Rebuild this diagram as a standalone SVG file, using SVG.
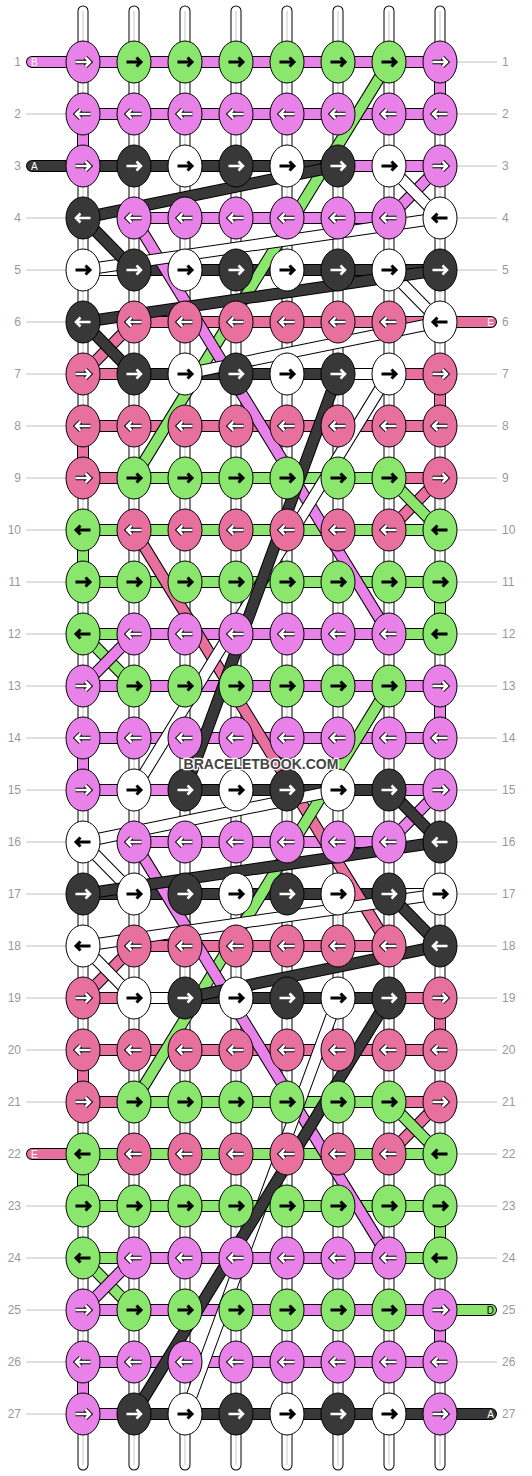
<svg xmlns="http://www.w3.org/2000/svg" xmlns:xlink="http://www.w3.org/1999/xlink" width="532" height="1476" viewBox="0 0 532 1476">
<style>
.o{fill:none;stroke:#000;stroke-width:12;stroke-linecap:round;stroke-linejoin:round}
.fP{fill:none;stroke:#e8709f;stroke-width:10;stroke-linecap:round;stroke-linejoin:round}
.fW{fill:none;stroke:#fff;stroke-width:10;stroke-linecap:round;stroke-linejoin:round}
.fG{fill:none;stroke:#8ae66c;stroke-width:10;stroke-linecap:round;stroke-linejoin:round}
.fV{fill:none;stroke:#e882e8;stroke-width:10;stroke-linecap:round;stroke-linejoin:round}
.fK{fill:none;stroke:#383838;stroke-width:10;stroke-linecap:round;stroke-linejoin:round}
.so{fill:none;stroke:#000;stroke-width:11;stroke-linecap:round}
.sf{fill:none;stroke:#fff;stroke-width:9;stroke-linecap:round}
.sc{fill:none;stroke:#c8c8c8;stroke-width:1}
.gl{fill:none;stroke:#c0c0c0;stroke-width:1}
.ao{fill:none;stroke:#000;stroke-width:4.5}
.ai{fill:none;stroke:#fff;stroke-width:2.5}
.ab{fill:none;stroke:#000;stroke-width:3}
.kV{fill:#e882e8;stroke:#000;stroke-width:1}
.kG{fill:#8ae66c;stroke:#000;stroke-width:1}
.kK{fill:#383838;stroke:#000;stroke-width:1}
.kW{fill:#fff;stroke:#000;stroke-width:1}
.kP{fill:#e8709f;stroke:#000;stroke-width:1}
.rl{font-family:"Liberation Sans",Arial,sans-serif;font-size:12px;fill:#999}
.tl{font-family:"Liberation Sans",Arial,sans-serif;font-size:10px;fill:#fff}
.wm{font-family:"Liberation Sans",Arial,sans-serif;font-size:14px;font-weight:bold;fill:#444;stroke:#fff;stroke-width:2.5;paint-order:stroke;stroke-linejoin:round}
</style>
<defs>
<path id="aR" d="M-7.5,0H7M2.5,-4.5L7,0L2.5,4.5"/>
<path id="aL" d="M7.5,0H-7M-2.5,-4.5L-7,0L-2.5,4.5"/>
<g id="awR"><use href="#aR" class="ao"/><use href="#aR" class="ai"/></g>
<g id="awL"><use href="#aL" class="ao"/><use href="#aL" class="ai"/></g>
<g id="VR"><ellipse rx="17" ry="21" class="kV"/><use href="#awR"/></g>
<g id="VL"><ellipse rx="17" ry="21" class="kV"/><use href="#awL"/></g>
<g id="PR"><ellipse rx="17" ry="21" class="kP"/><use href="#awR"/></g>
<g id="PL"><ellipse rx="17" ry="21" class="kP"/><use href="#awL"/></g>
<g id="KR"><ellipse rx="17" ry="21" class="kK"/><use href="#aR" class="ai"/></g>
<g id="KL"><ellipse rx="17" ry="21" class="kK"/><use href="#aL" class="ai"/></g>
<g id="GR"><ellipse rx="17" ry="21" class="kG"/><use href="#aR" class="ab"/></g>
<g id="GL"><ellipse rx="17" ry="21" class="kG"/><use href="#aL" class="ab"/></g>
<g id="WR"><ellipse rx="17" ry="21" class="kW"/><use href="#aR" class="ab"/></g>
<g id="WL"><ellipse rx="17" ry="21" class="kW"/><use href="#aL" class="ab"/></g>
<path id="st" d="M83,11V1465M134,11V1465M185,11V1465M236,11V1465M287,11V1465M338,11V1465M389,11V1465M440,11V1465"/>
<path id="bP" d="M134,322H491M83,374H440V426H83V478H440M134,530H389M134,946H389M83,998H440V1050H83V1102H440M32,1154H389"/>
<path id="bW" d="M185,166H389M83,270H389M185,374H389M134,790H338M134,894H440M134,998H338M185,1414H389"/>
<path id="bG" d="M134,62H389M134,478H389M440,530H83V582H440V634H83M134,686H389M134,1102H389M440,1154H83V1206H440V1258H83M134,1310H491"/>
<path id="bV" d="M32,62H440V114H83V166H440M134,218H389M134,634H389M83,686H440V738H83V790H440M134,842H389M134,1258H389M83,1310H440V1362H83V1414H440"/>
<path id="bK" d="M32,166H338M134,270H440M134,374H338M185,790H389M83,894H389M185,998H389M134,1414H491"/>
<path id="dP" d="M134,322L83,374M440,478L389,530M134,530L389,946M134,946L83,998M440,1102L389,1154"/>
<path id="dG" d="M389,62L134,478M389,478L440,530M83,634L134,686M389,686L134,1102M389,1102L440,1154M83,1258L134,1310"/>
<path id="dV" d="M440,166L389,218M134,218L389,634M134,634L83,686M440,790L389,842M134,842L389,1258M134,1258L83,1310"/>
<path id="dW" d="M389,166L440,218L83,270M389,270L440,322L185,374M389,374L134,790M338,790L83,842L134,894M440,894L83,946L134,998M338,998L185,1414"/>
<path id="dK" d="M338,166L83,218L134,270M440,270L83,322L134,374M338,374L185,790M389,790L440,842L83,894M389,894L440,946L185,998M389,998L134,1414"/>
</defs>
<rect width="532" height="1476" fill="#fff"/>
<g id="guides">
<path class="gl" d="M26,114H83M26,218H83M26,270H83M26,322H83M26,374H83M26,426H83M26,478H83M26,530H83M26,582H83M26,634H83M26,686H83M26,738H83M26,790H83M26,842H83M26,894H83M26,946H83M26,998H83M26,1050H83M26,1102H83M26,1206H83M26,1258H83M26,1310H83M26,1362H83M26,1414H83"/>
<path class="gl" d="M440,62H497M440,114H497M440,166H497M440,218H497M440,270H497M440,374H497M440,426H497M440,478H497M440,530H497M440,582H497M440,634H497M440,686H497M440,738H497M440,790H497M440,842H497M440,894H497M440,946H497M440,998H497M440,1050H497M440,1102H497M440,1154H497M440,1206H497M440,1258H497M440,1362H497"/>
</g>
<g id="strands">
<use href="#st" class="so"/><use href="#st" class="sf"/><use href="#st" class="sc"/>
</g>
<g id="connectors">
<use href="#bP" class="o"/><use href="#bP" class="fP"/>
<use href="#bW" class="o"/><use href="#bW" class="fW"/>
<use href="#bG" class="o"/><use href="#bG" class="fG"/>
<use href="#bV" class="o"/><use href="#bV" class="fV"/>
<use href="#bK" class="o"/><use href="#bK" class="fK"/>
<use href="#dP" class="o"/><use href="#dP" class="fP"/>
<use href="#dG" class="o"/><use href="#dG" class="fG"/>
<use href="#dV" class="o"/><use href="#dV" class="fV"/>
<use href="#dW" class="o"/><use href="#dW" class="fW"/>
<use href="#dK" class="o"/><use href="#dK" class="fK"/>
</g>
<g id="ends">
<text class="tl" x="31" y="66">B</text>
<text class="tl" x="31" y="170">A</text>
<text class="tl" x="31" y="1158">E</text>
<text class="tl" x="494" y="326" text-anchor="end">E</text>
<text class="tl" x="494" y="1314" text-anchor="end" style="fill:#000">D</text>
<text class="tl" x="494" y="1418" text-anchor="end">A</text>
</g>
<g id="knots">
<g id="k1-1"><use href="#VR" x="83" y="62"/></g><g id="k1-2"><use href="#GR" x="134" y="62"/></g><g id="k1-3"><use href="#GR" x="185" y="62"/></g><g id="k1-4"><use href="#GR" x="236" y="62"/></g><g id="k1-5"><use href="#GR" x="287" y="62"/></g><g id="k1-6"><use href="#GR" x="338" y="62"/></g><g id="k1-7"><use href="#GR" x="389" y="62"/></g><g id="k1-8"><use href="#VR" x="440" y="62"/></g>
<g id="k2-1"><use href="#VL" x="83" y="114"/></g><g id="k2-2"><use href="#VL" x="134" y="114"/></g><g id="k2-3"><use href="#VL" x="185" y="114"/></g><g id="k2-4"><use href="#VL" x="236" y="114"/></g><g id="k2-5"><use href="#VL" x="287" y="114"/></g><g id="k2-6"><use href="#VL" x="338" y="114"/></g><g id="k2-7"><use href="#VL" x="389" y="114"/></g><g id="k2-8"><use href="#VL" x="440" y="114"/></g>
<g id="k3-1"><use href="#VR" x="83" y="166"/></g><g id="k3-2"><use href="#KR" x="134" y="166"/></g><g id="k3-3"><use href="#WR" x="185" y="166"/></g><g id="k3-4"><use href="#KR" x="236" y="166"/></g><g id="k3-5"><use href="#WR" x="287" y="166"/></g><g id="k3-6"><use href="#KR" x="338" y="166"/></g><g id="k3-7"><use href="#WR" x="389" y="166"/></g><g id="k3-8"><use href="#VR" x="440" y="166"/></g>
<g id="k4-1"><use href="#KL" x="83" y="218"/></g><g id="k4-2"><use href="#VL" x="134" y="218"/></g><g id="k4-3"><use href="#VL" x="185" y="218"/></g><g id="k4-4"><use href="#VL" x="236" y="218"/></g><g id="k4-5"><use href="#VL" x="287" y="218"/></g><g id="k4-6"><use href="#VL" x="338" y="218"/></g><g id="k4-7"><use href="#VL" x="389" y="218"/></g><g id="k4-8"><use href="#WL" x="440" y="218"/></g>
<g id="k5-1"><use href="#WR" x="83" y="270"/></g><g id="k5-2"><use href="#KR" x="134" y="270"/></g><g id="k5-3"><use href="#WR" x="185" y="270"/></g><g id="k5-4"><use href="#KR" x="236" y="270"/></g><g id="k5-5"><use href="#WR" x="287" y="270"/></g><g id="k5-6"><use href="#KR" x="338" y="270"/></g><g id="k5-7"><use href="#WR" x="389" y="270"/></g><g id="k5-8"><use href="#KR" x="440" y="270"/></g>
<g id="k6-1"><use href="#KL" x="83" y="322"/></g><g id="k6-2"><use href="#PL" x="134" y="322"/></g><g id="k6-3"><use href="#PL" x="185" y="322"/></g><g id="k6-4"><use href="#PL" x="236" y="322"/></g><g id="k6-5"><use href="#PL" x="287" y="322"/></g><g id="k6-6"><use href="#PL" x="338" y="322"/></g><g id="k6-7"><use href="#PL" x="389" y="322"/></g><g id="k6-8"><use href="#WL" x="440" y="322"/></g>
<g id="k7-1"><use href="#PR" x="83" y="374"/></g><g id="k7-2"><use href="#KR" x="134" y="374"/></g><g id="k7-3"><use href="#WR" x="185" y="374"/></g><g id="k7-4"><use href="#KR" x="236" y="374"/></g><g id="k7-5"><use href="#WR" x="287" y="374"/></g><g id="k7-6"><use href="#KR" x="338" y="374"/></g><g id="k7-7"><use href="#WR" x="389" y="374"/></g><g id="k7-8"><use href="#PR" x="440" y="374"/></g>
<g id="k8-1"><use href="#PL" x="83" y="426"/></g><g id="k8-2"><use href="#PL" x="134" y="426"/></g><g id="k8-3"><use href="#PL" x="185" y="426"/></g><g id="k8-4"><use href="#PL" x="236" y="426"/></g><g id="k8-5"><use href="#PL" x="287" y="426"/></g><g id="k8-6"><use href="#PL" x="338" y="426"/></g><g id="k8-7"><use href="#PL" x="389" y="426"/></g><g id="k8-8"><use href="#PL" x="440" y="426"/></g>
<g id="k9-1"><use href="#PR" x="83" y="478"/></g><g id="k9-2"><use href="#GR" x="134" y="478"/></g><g id="k9-3"><use href="#GR" x="185" y="478"/></g><g id="k9-4"><use href="#GR" x="236" y="478"/></g><g id="k9-5"><use href="#GR" x="287" y="478"/></g><g id="k9-6"><use href="#GR" x="338" y="478"/></g><g id="k9-7"><use href="#GR" x="389" y="478"/></g><g id="k9-8"><use href="#PR" x="440" y="478"/></g>
<g id="k10-1"><use href="#GL" x="83" y="530"/></g><g id="k10-2"><use href="#PL" x="134" y="530"/></g><g id="k10-3"><use href="#PL" x="185" y="530"/></g><g id="k10-4"><use href="#PL" x="236" y="530"/></g><g id="k10-5"><use href="#PL" x="287" y="530"/></g><g id="k10-6"><use href="#PL" x="338" y="530"/></g><g id="k10-7"><use href="#PL" x="389" y="530"/></g><g id="k10-8"><use href="#GL" x="440" y="530"/></g>
<g id="k11-1"><use href="#GR" x="83" y="582"/></g><g id="k11-2"><use href="#GR" x="134" y="582"/></g><g id="k11-3"><use href="#GR" x="185" y="582"/></g><g id="k11-4"><use href="#GR" x="236" y="582"/></g><g id="k11-5"><use href="#GR" x="287" y="582"/></g><g id="k11-6"><use href="#GR" x="338" y="582"/></g><g id="k11-7"><use href="#GR" x="389" y="582"/></g><g id="k11-8"><use href="#GR" x="440" y="582"/></g>
<g id="k12-1"><use href="#GL" x="83" y="634"/></g><g id="k12-2"><use href="#VL" x="134" y="634"/></g><g id="k12-3"><use href="#VL" x="185" y="634"/></g><g id="k12-4"><use href="#VL" x="236" y="634"/></g><g id="k12-5"><use href="#VL" x="287" y="634"/></g><g id="k12-6"><use href="#VL" x="338" y="634"/></g><g id="k12-7"><use href="#VL" x="389" y="634"/></g><g id="k12-8"><use href="#GL" x="440" y="634"/></g>
<g id="k13-1"><use href="#VR" x="83" y="686"/></g><g id="k13-2"><use href="#GR" x="134" y="686"/></g><g id="k13-3"><use href="#GR" x="185" y="686"/></g><g id="k13-4"><use href="#GR" x="236" y="686"/></g><g id="k13-5"><use href="#GR" x="287" y="686"/></g><g id="k13-6"><use href="#GR" x="338" y="686"/></g><g id="k13-7"><use href="#GR" x="389" y="686"/></g><g id="k13-8"><use href="#VR" x="440" y="686"/></g>
<g id="k14-1"><use href="#VL" x="83" y="738"/></g><g id="k14-2"><use href="#VL" x="134" y="738"/></g><g id="k14-3"><use href="#VL" x="185" y="738"/></g><g id="k14-4"><use href="#VL" x="236" y="738"/></g><g id="k14-5"><use href="#VL" x="287" y="738"/></g><g id="k14-6"><use href="#VL" x="338" y="738"/></g><g id="k14-7"><use href="#VL" x="389" y="738"/></g><g id="k14-8"><use href="#VL" x="440" y="738"/></g>
<g id="k15-1"><use href="#VR" x="83" y="790"/></g><g id="k15-2"><use href="#WR" x="134" y="790"/></g><g id="k15-3"><use href="#KR" x="185" y="790"/></g><g id="k15-4"><use href="#WR" x="236" y="790"/></g><g id="k15-5"><use href="#KR" x="287" y="790"/></g><g id="k15-6"><use href="#WR" x="338" y="790"/></g><g id="k15-7"><use href="#KR" x="389" y="790"/></g><g id="k15-8"><use href="#VR" x="440" y="790"/></g>
<g id="k16-1"><use href="#WL" x="83" y="842"/></g><g id="k16-2"><use href="#VL" x="134" y="842"/></g><g id="k16-3"><use href="#VL" x="185" y="842"/></g><g id="k16-4"><use href="#VL" x="236" y="842"/></g><g id="k16-5"><use href="#VL" x="287" y="842"/></g><g id="k16-6"><use href="#VL" x="338" y="842"/></g><g id="k16-7"><use href="#VL" x="389" y="842"/></g><g id="k16-8"><use href="#KL" x="440" y="842"/></g>
<g id="k17-1"><use href="#KR" x="83" y="894"/></g><g id="k17-2"><use href="#WR" x="134" y="894"/></g><g id="k17-3"><use href="#KR" x="185" y="894"/></g><g id="k17-4"><use href="#WR" x="236" y="894"/></g><g id="k17-5"><use href="#KR" x="287" y="894"/></g><g id="k17-6"><use href="#WR" x="338" y="894"/></g><g id="k17-7"><use href="#KR" x="389" y="894"/></g><g id="k17-8"><use href="#WR" x="440" y="894"/></g>
<g id="k18-1"><use href="#WL" x="83" y="946"/></g><g id="k18-2"><use href="#PL" x="134" y="946"/></g><g id="k18-3"><use href="#PL" x="185" y="946"/></g><g id="k18-4"><use href="#PL" x="236" y="946"/></g><g id="k18-5"><use href="#PL" x="287" y="946"/></g><g id="k18-6"><use href="#PL" x="338" y="946"/></g><g id="k18-7"><use href="#PL" x="389" y="946"/></g><g id="k18-8"><use href="#KL" x="440" y="946"/></g>
<g id="k19-1"><use href="#PR" x="83" y="998"/></g><g id="k19-2"><use href="#WR" x="134" y="998"/></g><g id="k19-3"><use href="#KR" x="185" y="998"/></g><g id="k19-4"><use href="#WR" x="236" y="998"/></g><g id="k19-5"><use href="#KR" x="287" y="998"/></g><g id="k19-6"><use href="#WR" x="338" y="998"/></g><g id="k19-7"><use href="#KR" x="389" y="998"/></g><g id="k19-8"><use href="#PR" x="440" y="998"/></g>
<g id="k20-1"><use href="#PL" x="83" y="1050"/></g><g id="k20-2"><use href="#PL" x="134" y="1050"/></g><g id="k20-3"><use href="#PL" x="185" y="1050"/></g><g id="k20-4"><use href="#PL" x="236" y="1050"/></g><g id="k20-5"><use href="#PL" x="287" y="1050"/></g><g id="k20-6"><use href="#PL" x="338" y="1050"/></g><g id="k20-7"><use href="#PL" x="389" y="1050"/></g><g id="k20-8"><use href="#PL" x="440" y="1050"/></g>
<g id="k21-1"><use href="#PR" x="83" y="1102"/></g><g id="k21-2"><use href="#GR" x="134" y="1102"/></g><g id="k21-3"><use href="#GR" x="185" y="1102"/></g><g id="k21-4"><use href="#GR" x="236" y="1102"/></g><g id="k21-5"><use href="#GR" x="287" y="1102"/></g><g id="k21-6"><use href="#GR" x="338" y="1102"/></g><g id="k21-7"><use href="#GR" x="389" y="1102"/></g><g id="k21-8"><use href="#PR" x="440" y="1102"/></g>
<g id="k22-1"><use href="#GL" x="83" y="1154"/></g><g id="k22-2"><use href="#PL" x="134" y="1154"/></g><g id="k22-3"><use href="#PL" x="185" y="1154"/></g><g id="k22-4"><use href="#PL" x="236" y="1154"/></g><g id="k22-5"><use href="#PL" x="287" y="1154"/></g><g id="k22-6"><use href="#PL" x="338" y="1154"/></g><g id="k22-7"><use href="#PL" x="389" y="1154"/></g><g id="k22-8"><use href="#GL" x="440" y="1154"/></g>
<g id="k23-1"><use href="#GR" x="83" y="1206"/></g><g id="k23-2"><use href="#GR" x="134" y="1206"/></g><g id="k23-3"><use href="#GR" x="185" y="1206"/></g><g id="k23-4"><use href="#GR" x="236" y="1206"/></g><g id="k23-5"><use href="#GR" x="287" y="1206"/></g><g id="k23-6"><use href="#GR" x="338" y="1206"/></g><g id="k23-7"><use href="#GR" x="389" y="1206"/></g><g id="k23-8"><use href="#GR" x="440" y="1206"/></g>
<g id="k24-1"><use href="#GL" x="83" y="1258"/></g><g id="k24-2"><use href="#VL" x="134" y="1258"/></g><g id="k24-3"><use href="#VL" x="185" y="1258"/></g><g id="k24-4"><use href="#VL" x="236" y="1258"/></g><g id="k24-5"><use href="#VL" x="287" y="1258"/></g><g id="k24-6"><use href="#VL" x="338" y="1258"/></g><g id="k24-7"><use href="#VL" x="389" y="1258"/></g><g id="k24-8"><use href="#GL" x="440" y="1258"/></g>
<g id="k25-1"><use href="#VR" x="83" y="1310"/></g><g id="k25-2"><use href="#GR" x="134" y="1310"/></g><g id="k25-3"><use href="#GR" x="185" y="1310"/></g><g id="k25-4"><use href="#GR" x="236" y="1310"/></g><g id="k25-5"><use href="#GR" x="287" y="1310"/></g><g id="k25-6"><use href="#GR" x="338" y="1310"/></g><g id="k25-7"><use href="#GR" x="389" y="1310"/></g><g id="k25-8"><use href="#VR" x="440" y="1310"/></g>
<g id="k26-1"><use href="#VL" x="83" y="1362"/></g><g id="k26-2"><use href="#VL" x="134" y="1362"/></g><g id="k26-3"><use href="#VL" x="185" y="1362"/></g><g id="k26-4"><use href="#VL" x="236" y="1362"/></g><g id="k26-5"><use href="#VL" x="287" y="1362"/></g><g id="k26-6"><use href="#VL" x="338" y="1362"/></g><g id="k26-7"><use href="#VL" x="389" y="1362"/></g><g id="k26-8"><use href="#VL" x="440" y="1362"/></g>
<g id="k27-1"><use href="#VR" x="83" y="1414"/></g><g id="k27-2"><use href="#KR" x="134" y="1414"/></g><g id="k27-3"><use href="#WR" x="185" y="1414"/></g><g id="k27-4"><use href="#KR" x="236" y="1414"/></g><g id="k27-5"><use href="#WR" x="287" y="1414"/></g><g id="k27-6"><use href="#KR" x="338" y="1414"/></g><g id="k27-7"><use href="#WR" x="389" y="1414"/></g><g id="k27-8"><use href="#VR" x="440" y="1414"/></g>
</g>
<g id="row-labels-left" class="rl" text-anchor="end">
<text x="21" y="66">1</text><text x="21" y="118">2</text><text x="21" y="170">3</text><text x="21" y="222">4</text><text x="21" y="274">5</text><text x="21" y="326">6</text><text x="21" y="378">7</text><text x="21" y="430">8</text><text x="21" y="482">9</text><text x="21" y="534">10</text><text x="21" y="586">11</text><text x="21" y="638">12</text><text x="21" y="690">13</text><text x="21" y="742">14</text><text x="21" y="794">15</text><text x="21" y="846">16</text><text x="21" y="898">17</text><text x="21" y="950">18</text><text x="21" y="1002">19</text><text x="21" y="1054">20</text><text x="21" y="1106">21</text><text x="21" y="1158">22</text><text x="21" y="1210">23</text><text x="21" y="1262">24</text><text x="21" y="1314">25</text><text x="21" y="1366">26</text><text x="21" y="1418">27</text>
</g>
<g id="row-labels-right" class="rl">
<text x="502" y="66">1</text><text x="502" y="118">2</text><text x="502" y="170">3</text><text x="502" y="222">4</text><text x="502" y="274">5</text><text x="502" y="326">6</text><text x="502" y="378">7</text><text x="502" y="430">8</text><text x="502" y="482">9</text><text x="502" y="534">10</text><text x="502" y="586">11</text><text x="502" y="638">12</text><text x="502" y="690">13</text><text x="502" y="742">14</text><text x="502" y="794">15</text><text x="502" y="846">16</text><text x="502" y="898">17</text><text x="502" y="950">18</text><text x="502" y="1002">19</text><text x="502" y="1054">20</text><text x="502" y="1106">21</text><text x="502" y="1158">22</text><text x="502" y="1210">23</text><text x="502" y="1262">24</text><text x="502" y="1314">25</text><text x="502" y="1366">26</text><text x="502" y="1418">27</text>
</g>
<text class="wm" x="261" y="769" text-anchor="middle">BRACELETBOOK.COM</text>
</svg>
